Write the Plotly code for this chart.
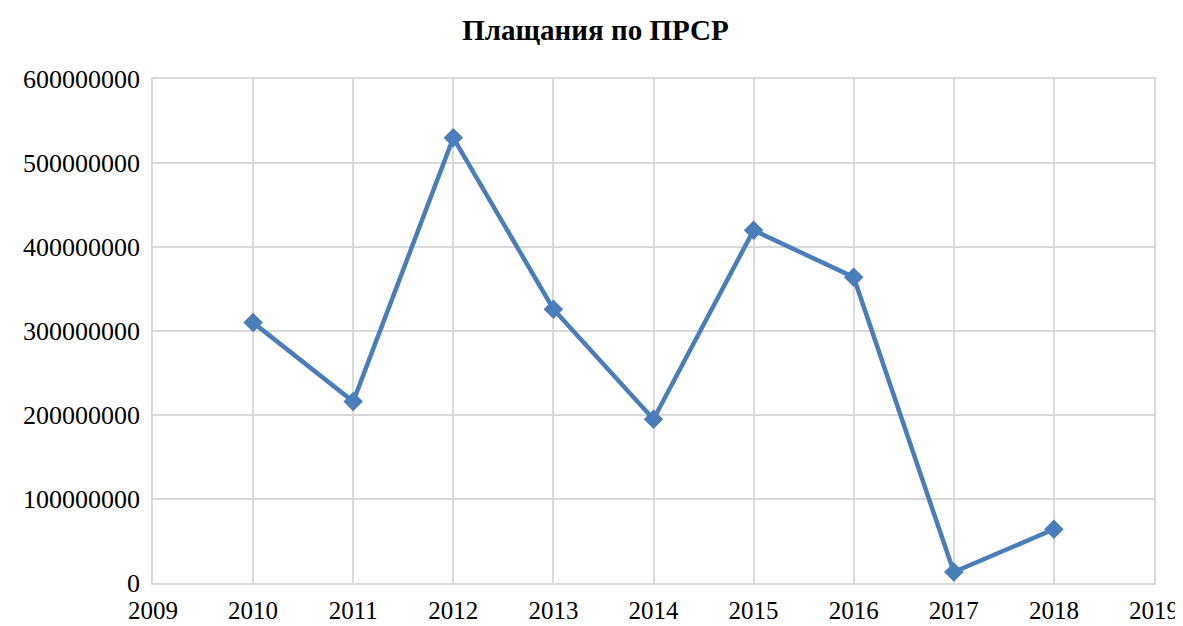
import plotly.graph_objects as go

years = [2010, 2011, 2012, 2013, 2014, 2015, 2016, 2017, 2018]
payments = [310000000, 216000000, 530000000, 326000000, 195000000, 420000000, 364000000, 13000000, 64000000]
title_text = "Плащания по ПРСР"

fig = go.Figure()
fig.add_trace(go.Scatter(
    x=years, y=payments, mode="lines+markers",
    line=dict(color="#4A7EBB", width=4.5),
    marker=dict(symbol="diamond", size=15, color="#4A7EBB"),
    showlegend=False, cliponaxis=False,
))

grid = "#D9D9D9"
fig.update_layout(
    width=1175, height=618,
    paper_bgcolor="white", plot_bgcolor="white",
    margin=dict(l=145, r=29, t=71, b=43, autoexpand=False),
    font=dict(family="Liberation Serif, Times New Roman, serif", size=26, color="black"),
    title=dict(text="<b>" + title_text + "</b>", x=0.5, xanchor="center", y=0.964, yanchor="middle",
               font=dict(size=29, family="Liberation Serif, Times New Roman, serif"), automargin=False),
    xaxis=dict(range=[2009, 2019], dtick=1, tick0=2009, showgrid=True, gridcolor=grid, gridwidth=1.5,
               showline=True, linecolor=grid, linewidth=1.5, mirror=True, zeroline=False,
               ticks="", ticklabelstandoff=4, automargin=False, tickfont=dict(size=25)),
    yaxis=dict(range=[0, 600000000], dtick=100000000, tickformat="d", showgrid=True, gridcolor=grid,
               gridwidth=1.5, showline=True, linecolor=grid, linewidth=1.5, mirror=True, zeroline=False,
               ticks="", ticklabelstandoff=6, automargin=False),
)
fig.write_html("out.html")
